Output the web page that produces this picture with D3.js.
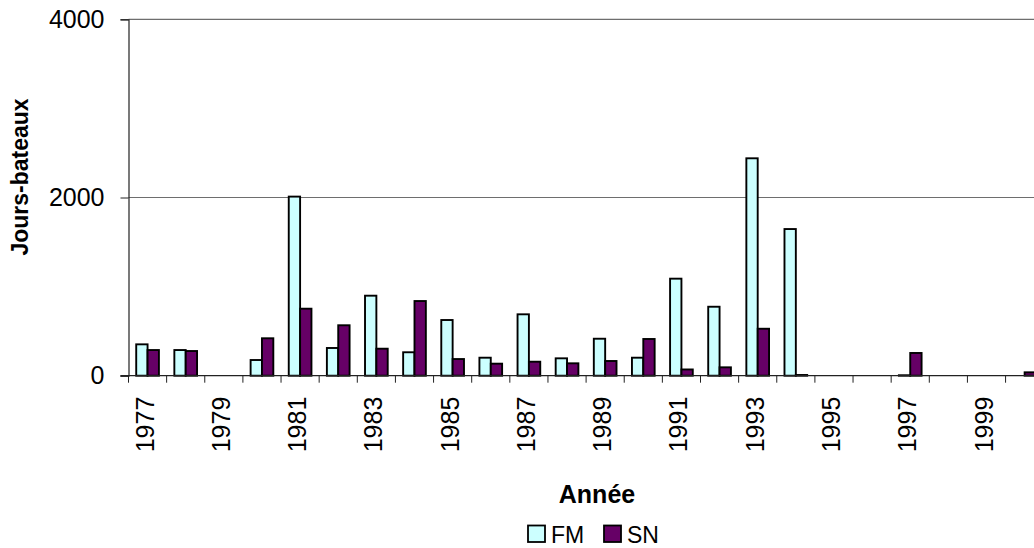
<!DOCTYPE html>
<html>
<head>
<meta charset="utf-8">
<script src="https://cdn.jsdelivr.net/npm/d3@7"></script>
<style>
  html, body { margin: 0; padding: 0; background: #fff; }
  svg { display: block; font-family: "Liberation Sans", Arial, sans-serif; }
</style>
</head>
<body>
<svg id="chart" width="1034" height="548"></svg>
<script>
// Fishing effort (boat-days) per year, two fleets
const years = ["1977","1978","1979","1980","1981","1982","1983","1984","1985","1986","1987","1988",
               "1989","1990","1991","1992","1993","1994","1995","1996","1997","1998","1999","2000"];
const fmValues = [352, 288, null, 176, 2010, 311, 898, 263, 625, 202, 689, 195,
                  415, 202, 1089, 774, 2440, 1646, null, null, 5, null, null, null];
const snValues = [288, 277, null, 420, 752, 566, 303, 838, 187, 135, 157, 139,
                  165, 412, 70, 94, 527, 8, null, null, 255, null, null, 38];
const seriesNames = ["FM", "SN"];
const seriesColors = ["#CCFFFF", "#660066"];
const yTicks = [0, 2000, 4000];

const svg = d3.select("#chart");

const plotLeft = 128.5, plotRight = 1043.7, plotTop = 19.3, plotBottom = 375.7;

const x = d3.scaleBand().domain(years).range([plotLeft, plotRight]).paddingInner(0).paddingOuter(0);
const inner = d3.scaleBand().domain(seriesNames).range([0, x.bandwidth()]).paddingInner(0).paddingOuter(0.68);
const y = d3.scaleLinear().domain([0, 4000]).range([plotBottom, plotTop]);

// horizontal gridlines
svg.append("g").selectAll("line").data(yTicks.filter(d => d > 0)).join("line")
  .attr("x1", plotLeft).attr("x2", plotRight)
  .attr("y1", d => y(d)).attr("y2", d => y(d))
  .attr("stroke", "#6e6e6e").attr("stroke-width", 1.2);

// bars
const rows = years.map((yr, i) => ({ year: yr, values: [fmValues[i], snValues[i]] }));
const groups = svg.append("g").selectAll("g").data(rows).join("g")
  .attr("transform", d => `translate(${x(d.year)},0)`);
groups.selectAll("rect")
  .data(d => d.values.map((v, k) => ({ key: seriesNames[k], v, k })).filter(e => e.v !== null))
  .join("rect")
  .attr("x", d => inner(d.key))
  .attr("width", inner.bandwidth())
  .attr("y", d => y(d.v))
  .attr("height", d => y(0) - y(d.v))
  .attr("fill", d => seriesColors[d.k])
  .attr("stroke", "#000").attr("stroke-width", 1.9);

// y axis
const yAxis = d3.axisLeft(y).tickValues(yTicks).tickSize(8).tickPadding(16).tickFormat(d3.format("d"));
const gy = svg.append("g").attr("transform", `translate(${plotLeft},0)`).call(yAxis);
gy.select(".domain").attr("stroke", "#222").attr("stroke-width", 1.2);
gy.selectAll(".tick line").attr("stroke", "#222");
gy.selectAll("text").attr("font-size", 25).attr("fill", "#000")
  .attr("font-family", "'Liberation Sans', Arial, sans-serif");

// x axis: ticks at category boundaries, labels every other year
const gx = svg.append("g").attr("transform", `translate(0,${plotBottom})`);
gx.append("line").attr("x1", plotLeft - 8).attr("x2", plotRight).attr("y1", 0).attr("y2", 0)
  .attr("stroke", "#222").attr("stroke-width", 1.2);
gx.selectAll("line.tk").data(years).join("line").attr("class", "tk")
  .attr("x1", d => x(d)).attr("x2", d => x(d)).attr("y1", 0).attr("y2", 7)
  .attr("stroke", "#222");
gx.selectAll("text").data(years.filter((d, i) => i % 2 === 0)).join("text")
  .attr("transform", d => `translate(${x(d) + x.bandwidth() / 2 - 3},${21}) rotate(-90)`)
  .attr("text-anchor", "end").attr("dy", "0.36em")
  .attr("font-size", 25).attr("fill", "#000")
  .text(d => d);

// axis titles
svg.append("text")
  .attr("transform", `translate(20,177) rotate(-90)`)
  .attr("text-anchor", "middle").attr("dy", "0.36em")
  .attr("font-size", 23).attr("font-weight", "bold").text("Jours-bateaux");
svg.append("text")
  .attr("x", 597).attr("y", 503)
  .attr("text-anchor", "middle")
  .attr("font-size", 25).attr("font-weight", "bold").text("Année");

// legend
const legend = svg.append("g");
const legendItems = [{ name: seriesNames[0], x: 527 }, { name: seriesNames[1], x: 603 }];
legendItems.forEach((d, k) => {
  legend.append("rect").attr("x", d.x + 1).attr("y", 525.5).attr("width", 17).attr("height", 16.5)
    .attr("fill", seriesColors[k]).attr("stroke", "#000").attr("stroke-width", 1.8);
  legend.append("text").attr("x", d.x + 24).attr("y", 542.5)
    .attr("font-size", 23).attr("fill", "#000").text(d.name);
});
</script>
</body>
</html>
